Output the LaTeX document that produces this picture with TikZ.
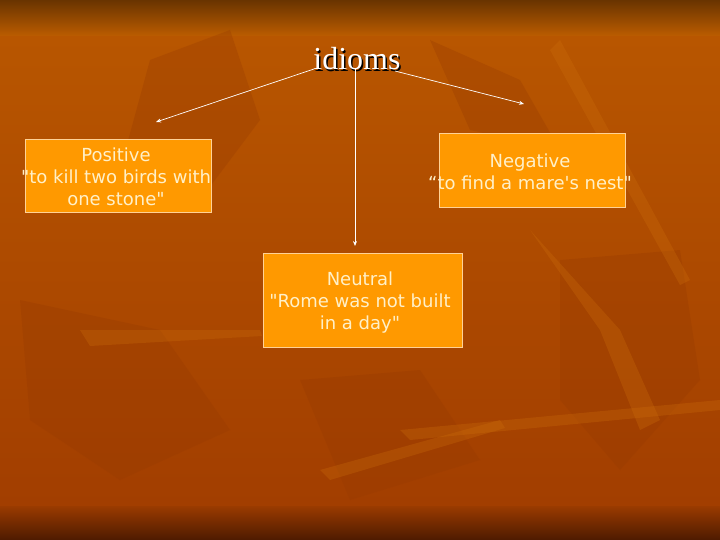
\documentclass[tikz,border=0pt]{standalone}
\usepackage{fontspec}
\setmainfont{Liberation Serif}
\newfontfamily\boxfont{DejaVu Sans}
\usetikzlibrary{arrows.meta}
\definecolor{topdark}{RGB}{105,52,0}
\definecolor{topmid}{RGB}{187,92,0}
\definecolor{bodytop}{RGB}{184,86,0}
\definecolor{bodybot}{RGB}{162,62,0}
\definecolor{botdark}{RGB}{78,26,0}
\definecolor{boxfill}{RGB}{255,153,0}
\definecolor{boxedge}{RGB}{255,210,150}
\definecolor{boxtxt}{RGB}{255,240,200}
\definecolor{leafdark}{RGB}{150,58,0}
\definecolor{leaflight}{RGB}{205,110,10}
\tikzset{
  boxshape/.style={fill=boxfill, draw=boxedge, line width=0.8pt, inner sep=0pt},
  boxtext/.style={font=\boxfont\fontsize{18}{22}\selectfont, text=boxtxt, align=center, inner sep=0pt},
  arr/.style={draw=white, line width=0.7pt, -{Stealth[length=5pt,width=4pt]}},
  leafd/.style={fill=leafdark, opacity=0.3},
  leafl/.style={fill=leaflight, opacity=0.3}
}
\begin{document}
\begin{tikzpicture}[x=1pt,y=-1pt]
\useasboundingbox (0,0) rectangle (720,540);
% background
\shade[top color=bodytop, bottom color=bodybot] (0,36) rectangle (720,506);
\shade[top color=topdark, bottom color=topmid] (0,0) rectangle (720,36);
% decorative leaf texture
\fill[leafd] (150,60) -- (230,30) -- (260,120) -- (200,200) -- (120,170) -- cycle;
\fill[leafd] (430,40) -- (520,80) -- (560,150) -- (470,130) -- cycle;
\fill[leafd] (560,260) -- (680,250) -- (700,380) -- (620,470) -- (560,400) -- cycle;
\fill[leafd] (20,300) -- (160,330) -- (230,430) -- (120,480) -- (30,420) -- cycle;
\fill[leafd] (300,380) -- (420,370) -- (480,460) -- (350,500) -- cycle;
\fill[leafl] (530,230) -- (620,330) -- (660,420) -- (640,430) -- (600,330) -- cycle;
\fill[leafl] (80,330) -- (260,330) -- (262,336) -- (90,346) -- cycle;
\fill[leafl] (560,40) -- (690,280) -- (680,285) -- (550,50) -- cycle;
\fill[leafl] (400,430) -- (720,400) -- (720,410) -- (410,440) -- cycle;
\fill[leafl] (320,470) -- (500,420) -- (505,428) -- (330,480) -- cycle;
\shade[top color=bodybot!95!black, bottom color=botdark] (0,506) rectangle (720,540);
% title
\node[font=\fontsize{32}{36}\selectfont, text=black, inner sep=0pt] (titleshadow) at (358.5,60.5) {idioms};
\node[font=\fontsize{32}{36}\selectfont, text=white, inner sep=0pt] (title) at (357,59) {idioms};
% boxes
\node[boxshape, minimum width=186pt, minimum height=73pt] (pos) at (118,175.5) {};
\node[boxtext] (postext) at (116,177) {Positive\\"to kill two birds with\\one stone"};
\node[boxshape, minimum width=186pt, minimum height=74pt] (neg) at (532,170) {};
\node[boxtext] (negtext) at (530,172) {Negative\\“to find a mare's nest"};
\node[boxshape, minimum width=199pt, minimum height=94pt] (neu) at (362.5,300) {};
\node[boxtext] (neutext) at (360,303) {Neutral\\"Rome was not built\\in a day"};
% arrows
\coordinate (a1s) at (314,69);
\coordinate (a1e) at (156,122);
\coordinate (a2s) at (355,68);
\coordinate (a2e) at (355,246);
\coordinate (a3s) at (395,71);
\coordinate (a3e) at (524,104);
\draw[arr] (a1s) -- (a1e);
\draw[arr] (a2s) -- (a2e);
\draw[arr] (a3s) -- (a3e);
\end{tikzpicture}
\end{document}
